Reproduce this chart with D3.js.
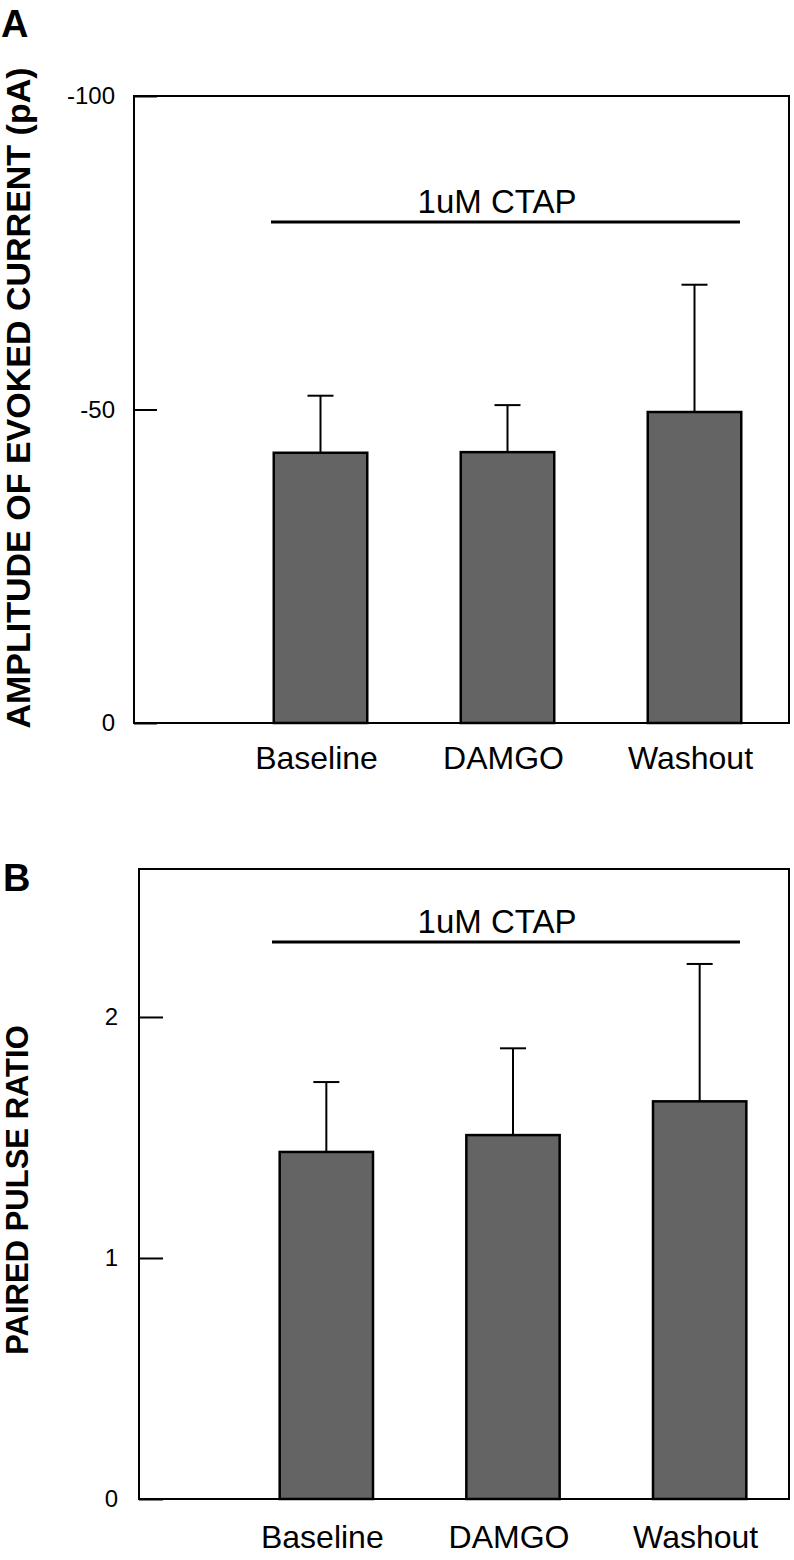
<!DOCTYPE html>
<html><head><meta charset="utf-8">
<script src="https://cdn.jsdelivr.net/npm/d3@7"></script>
<style>body{margin:0;background:#fff}svg{display:block;font-family:"Liberation Sans",Arial,sans-serif}</style>
</head><body>
<svg id="c" width="794" height="1560"></svg>
<script>
const categories = ["Baseline", "DAMGO", "Washout"];
const ampValues = [-43.1, -43.2, -49.6];
const ampErrors = [9.1, 7.5, 20.3];
const ampTicks = [0, -50, -100];
const pprValues = [1.44, 1.51, 1.65];
const pprErrors = [0.29, 0.36, 0.57];
const pprTicks = [0, 1, 2];
const treatmentLabel = "1uM CTAP";

const svg = d3.select("#c");

function panel(cfg) {
  const g = svg.append("g");
  const x = d3.scaleBand().domain(categories).range(cfg.xr).paddingInner(0.5).paddingOuter(0.25);
  const y = d3.scaleLinear().domain(cfg.domain).range([cfg.bottom, cfg.top]);
  g.append("rect").attr("x", cfg.left).attr("y", cfg.top)
    .attr("width", cfg.right - cfg.left).attr("height", cfg.bottom - cfg.top)
    .attr("fill", "none").attr("stroke", "#000").attr("stroke-width", 2);
  const ax = g.append("g").attr("transform", `translate(${cfg.left},0)`)
    .call(d3.axisLeft(y).tickValues(cfg.ticks).tickSizeInner(-cfg.tickLen).tickSizeOuter(0)
      .tickPadding(cfg.pad).tickFormat(d => String(d)));
  ax.attr("font-size", null).attr("font-family", null);
  ax.select(".domain").remove();
  ax.selectAll(".tick line").attr("stroke", "#000").attr("stroke-width", 2);
  ax.selectAll(".tick text").attr("font-size", 24).attr("fill", "#000");
  const data = categories.map((c, i) => ({c, v: cfg.values[i], e: cfg.errors[i]}));
  const sgn = cfg.domain[1] < 0 ? -1 : 1;
  data.forEach(d => {
    const cx = x(d.c) + x.bandwidth() / 2;
    const yTop = y(d.v + sgn * d.e);
    g.append("line").attr("x1", cx).attr("x2", cx).attr("y1", y(d.v)).attr("y2", yTop)
      .attr("stroke", "#000").attr("stroke-width", 2);
    g.append("line").attr("x1", cx - 13).attr("x2", cx + 13).attr("y1", yTop).attr("y2", yTop)
      .attr("stroke", "#000").attr("stroke-width", 2);
  });
  g.selectAll("rect.bar").data(data).join("rect").attr("class", "bar")
    .attr("x", d => x(d.c)).attr("width", x.bandwidth())
    .attr("y", d => Math.min(y(d.v), y(0))).attr("height", d => Math.abs(y(0) - y(d.v)))
    .attr("fill", "#646464").attr("stroke", "#000").attr("stroke-width", 2.5);
  g.selectAll("text.cat").data(data).join("text").attr("class", "cat")
    .attr("x", d => x(d.c) + x.bandwidth() / 2 - 4).attr("y", cfg.catY)
    .attr("text-anchor", "middle").attr("font-size", 32).text(d => d.c);
  g.append("line").attr("x1", cfg.ctap[0]).attr("x2", cfg.ctap[1]).attr("y1", cfg.ctapY).attr("y2", cfg.ctapY)
    .attr("stroke", "#000").attr("stroke-width", 3);
  g.append("text").attr("x", cfg.ctapTextX).attr("y", cfg.ctapY - 9)
    .attr("text-anchor", "middle").attr("font-size", 33).text(treatmentLabel);
  g.append("text").attr("transform", `translate(${cfg.titleX},${cfg.titleY}) rotate(-90)`)
    .attr("text-anchor", "middle").attr("font-weight", "bold").attr("font-size", cfg.titleSize).text(cfg.title);
  g.append("text").attr("x", cfg.letterX).attr("y", cfg.letterY).attr("font-weight", "bold")
    .attr("font-size", 38).text(cfg.letter);
}

panel({
  left: 134, right: 789, top: 96, bottom: 723, xr: [227, 788],
  domain: [0, -100], ticks: ampTicks, tickLen: 23, pad: 19,
  values: ampValues, errors: ampErrors, catY: 769,
  ctap: [271, 740], ctapY: 222, ctapTextX: 497,
  title: "AMPLITUDE OF EVOKED CURRENT (pA)", titleX: 30, titleY: 398, titleSize: 34,
  letter: "A", letterX: 1, letterY: 37
});

panel({
  left: 139, right: 789, top: 869, bottom: 1499, xr: [233, 793],
  domain: [0, 2.614], ticks: pprTicks, tickLen: 24, pad: 21,
  values: pprValues, errors: pprErrors, catY: 1548,
  ctap: [272, 740], ctapY: 942, ctapTextX: 497,
  title: "PAIRED PULSE RATIO", titleX: 28, titleY: 1190, titleSize: 31,
  letter: "B", letterX: 3, letterY: 891
});
</script>
</body></html>
